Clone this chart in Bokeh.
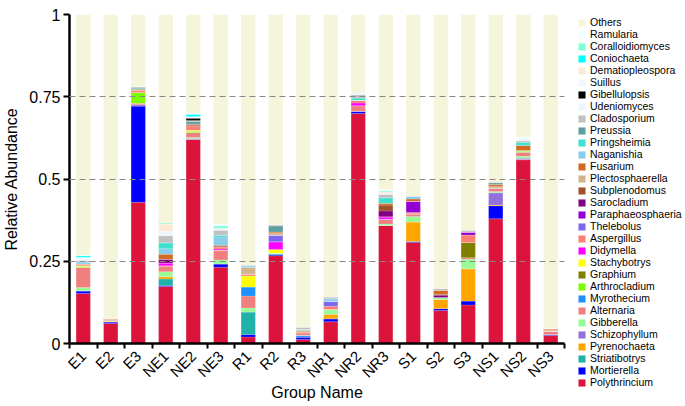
import math
from bokeh.plotting import figure
from bokeh.models import (ColumnDataSource, FixedTicker, Legend, LegendItem)
from bokeh.embed import file_html
from bokeh.resources import INLINE

groups = ["E1", "E2", "E3", "NE1", "NE2", "NE3", "R1", "R2", "R3",
          "NR1", "NR2", "NR3", "S1", "S2", "S3", "NS1", "NS2", "NS3"]

# stacking order: bottom -> top
Polythrincium     = [0.152, 0.061, 0.429, 0.173, 0.620, 0.232, 0.020, 0.267, 0.012, 0.066, 0.699, 0.359, 0.307, 0.100, 0.117, 0.379, 0.559, 0.024]
Mortierella       = [0.008, 0.004, 0.293, 0.003, 0.000, 0.010, 0.007, 0.003, 0.008, 0.009, 0.007, 0.000, 0.003, 0.006, 0.012, 0.040, 0.000, 0.003]
Striatibotrys     = [0.000, 0.000, 0.000, 0.020, 0.000, 0.000, 0.069, 0.004, 0.000, 0.000, 0.000, 0.000, 0.000, 0.000, 0.000, 0.000, 0.000, 0.000]
Pyrenochaeta      = [0.000, 0.004, 0.000, 0.007, 0.000, 0.000, 0.000, 0.000, 0.000, 0.014, 0.000, 0.000, 0.059, 0.028, 0.098, 0.002, 0.000, 0.000]
Schizophyllum     = [0.000, 0.000, 0.004, 0.000, 0.003, 0.000, 0.000, 0.000, 0.000, 0.000, 0.000, 0.000, 0.000, 0.000, 0.000, 0.037, 0.004, 0.000]
Gibberella        = [0.010, 0.000, 0.000, 0.015, 0.003, 0.012, 0.012, 0.000, 0.000, 0.014, 0.000, 0.004, 0.017, 0.006, 0.029, 0.004, 0.006, 0.000]
Alternaria        = [0.061, 0.000, 0.004, 0.018, 0.015, 0.030, 0.036, 0.000, 0.000, 0.000, 0.017, 0.015, 0.008, 0.000, 0.005, 0.011, 0.012, 0.011]
Myrothecium       = [0.000, 0.000, 0.000, 0.000, 0.000, 0.000, 0.028, 0.000, 0.005, 0.000, 0.000, 0.000, 0.000, 0.000, 0.000, 0.000, 0.000, 0.000]
Arthrocladium     = [0.003, 0.000, 0.033, 0.000, 0.004, 0.000, 0.000, 0.000, 0.000, 0.000, 0.000, 0.000, 0.000, 0.000, 0.000, 0.000, 0.004, 0.000]
Graphium          = [0.000, 0.000, 0.000, 0.000, 0.000, 0.000, 0.000, 0.000, 0.000, 0.000, 0.000, 0.000, 0.000, 0.000, 0.046, 0.000, 0.000, 0.000]
Stachybotrys      = [0.002, 0.000, 0.000, 0.000, 0.003, 0.000, 0.033, 0.012, 0.000, 0.000, 0.000, 0.000, 0.000, 0.000, 0.000, 0.000, 0.000, 0.000]
Didymella         = [0.000, 0.000, 0.000, 0.009, 0.000, 0.003, 0.000, 0.023, 0.000, 0.000, 0.008, 0.007, 0.000, 0.000, 0.000, 0.000, 0.000, 0.000]
Aspergillus       = [0.006, 0.000, 0.007, 0.000, 0.014, 0.007, 0.006, 0.000, 0.008, 0.010, 0.008, 0.000, 0.004, 0.000, 0.023, 0.000, 0.002, 0.000]
Thelebolus        = [0.000, 0.000, 0.000, 0.000, 0.000, 0.000, 0.000, 0.020, 0.000, 0.015, 0.000, 0.000, 0.000, 0.000, 0.000, 0.000, 0.000, 0.000]
Paraphaeosphaeria = [0.000, 0.000, 0.000, 0.000, 0.000, 0.000, 0.000, 0.000, 0.000, 0.000, 0.000, 0.000, 0.034, 0.000, 0.009, 0.000, 0.000, 0.000]
Sarocladium       = [0.000, 0.000, 0.000, 0.011, 0.000, 0.000, 0.000, 0.000, 0.000, 0.000, 0.000, 0.018, 0.000, 0.007, 0.000, 0.000, 0.000, 0.000]
Subplenodomus     = [0.000, 0.000, 0.000, 0.000, 0.005, 0.005, 0.000, 0.000, 0.000, 0.000, 0.000, 0.018, 0.000, 0.003, 0.000, 0.000, 0.000, 0.000]
Plectosphaerella  = [0.000, 0.004, 0.000, 0.000, 0.000, 0.000, 0.020, 0.006, 0.007, 0.000, 0.000, 0.000, 0.000, 0.000, 0.000, 0.004, 0.000, 0.002]
Fusarium          = [0.000, 0.002, 0.003, 0.015, 0.000, 0.000, 0.000, 0.004, 0.000, 0.000, 0.000, 0.005, 0.007, 0.012, 0.000, 0.006, 0.015, 0.004]
Naganishia        = [0.006, 0.000, 0.000, 0.017, 0.000, 0.025, 0.005, 0.000, 0.003, 0.008, 0.000, 0.000, 0.008, 0.000, 0.000, 0.000, 0.000, 0.000]
Pringsheimia      = [0.000, 0.000, 0.002, 0.018, 0.000, 0.005, 0.000, 0.000, 0.000, 0.000, 0.007, 0.017, 0.000, 0.000, 0.000, 0.000, 0.010, 0.000]
Preussia          = [0.000, 0.000, 0.003, 0.000, 0.008, 0.000, 0.000, 0.018, 0.000, 0.000, 0.000, 0.000, 0.000, 0.000, 0.000, 0.005, 0.000, 0.000]
Cladosporium      = [0.004, 0.002, 0.003, 0.021, 0.003, 0.015, 0.003, 0.004, 0.007, 0.006, 0.010, 0.010, 0.002, 0.006, 0.006, 0.003, 0.004, 0.002]
Udeniomyces       = [0.006, 0.000, 0.000, 0.014, 0.000, 0.006, 0.000, 0.000, 0.000, 0.000, 0.006, 0.004, 0.000, 0.000, 0.000, 0.000, 0.006, 0.000]
Gibellulopsis     = [0.000, 0.000, 0.000, 0.000, 0.007, 0.000, 0.000, 0.000, 0.000, 0.000, 0.000, 0.000, 0.000, 0.000, 0.000, 0.000, 0.000, 0.000]
Suillus           = [0.004, 0.000, 0.000, 0.000, 0.005, 0.000, 0.000, 0.000, 0.000, 0.000, 0.000, 0.000, 0.000, 0.000, 0.000, 0.000, 0.000, 0.000]
Dematiopleospora  = [0.000, 0.000, 0.000, 0.022, 0.000, 0.000, 0.000, 0.000, 0.000, 0.000, 0.000, 0.004, 0.000, 0.000, 0.000, 0.000, 0.000, 0.000]
Coniochaeta       = [0.005, 0.000, 0.000, 0.000, 0.007, 0.000, 0.000, 0.000, 0.000, 0.000, 0.000, 0.000, 0.000, 0.000, 0.000, 0.000, 0.000, 0.000]
Coralloidiomyces  = [0.000, 0.000, 0.000, 0.003, 0.000, 0.007, 0.000, 0.000, 0.000, 0.000, 0.000, 0.003, 0.000, 0.000, 0.000, 0.000, 0.000, 0.000]
Ramularia         = [0.002, 0.000, 0.000, 0.000, 0.001, 0.006, 0.000, 0.000, 0.000, 0.000, 0.000, 0.004, 0.000, 0.000, 0.000, 0.000, 0.006, 0.000]
Others            = [0.731, 0.923, 0.222, 0.634, 0.302, 0.637, 0.761, 0.639, 0.950, 0.858, 0.238, 0.536, 0.551, 0.832, 0.655, 0.509, 0.372, 0.954]

genera = ["Polythrincium", "Mortierella", "Striatibotrys", "Pyrenochaeta", "Schizophyllum",
          "Gibberella", "Alternaria", "Myrothecium", "Arthrocladium", "Graphium",
          "Stachybotrys", "Didymella", "Aspergillus", "Thelebolus", "Paraphaeosphaeria",
          "Sarocladium", "Subplenodomus", "Plectosphaerella", "Fusarium", "Naganishia",
          "Pringsheimia", "Preussia", "Cladosporium", "Udeniomyces", "Gibellulopsis",
          "Suillus", "Dematiopleospora", "Coniochaeta", "Coralloidiomyces", "Ramularia", "Others"]
series = [Polythrincium, Mortierella, Striatibotrys, Pyrenochaeta, Schizophyllum,
          Gibberella, Alternaria, Myrothecium, Arthrocladium, Graphium,
          Stachybotrys, Didymella, Aspergillus, Thelebolus, Paraphaeosphaeria,
          Sarocladium, Subplenodomus, Plectosphaerella, Fusarium, Naganishia,
          Pringsheimia, Preussia, Cladosporium, Udeniomyces, Gibellulopsis,
          Suillus, Dematiopleospora, Coniochaeta, Coralloidiomyces, Ramularia, Others]
colors = ["#DC143C", "#0000FF", "#20B2AA", "#FFA500", "#9370DB",
          "#98FB98", "#F08080", "#1E90FF", "#7CFC00", "#808000",
          "#FFFF00", "#FF00FF", "#FA8072", "#7B68EE", "#9400D3",
          "#800080", "#A0522D", "#D2B48C", "#D2691E", "#87CEEB",
          "#40E0D0", "#5F9EA0", "#C0C0C0", "#EEF5FF", "#000000",
          "#F0F8FF", "#FAEBD7", "#00FFFF", "#7FFFD4", "#F0FFFF", "#F5F5DC"]

yticks = [0, 0.25, 0.5, 0.75, 1]
ytick_labels = ["0", "0.25", "0.5", "0.75", "1"]

data = {"x": list(range(len(groups)))}
for g, s in zip(genera, series):
    data[g] = s
src = ColumnDataSource(data)

FONT = "Liberation Sans"

p = figure(frame_width=495, frame_height=329, output_backend="svg", toolbar_location=None,
           x_range=(-0.5, 17.5), y_range=(0, 1),
           min_border_left=65, min_border_top=14, min_border_right=105, min_border_bottom=5)
p.outline_line_color = None
p.background_fill_color = "white"

rs = p.vbar_stack(genera, x="x", width=0.52, color=colors, source=src,
                  line_color="white", line_width=0.3, line_alpha=0.5)

# axes
p.xaxis.ticker = FixedTicker(ticks=list(range(len(groups))),
                             minor_ticks=[i - 0.5 for i in range(len(groups) + 1)])
p.xaxis.major_label_overrides = {i: g for i, g in enumerate(groups)}
p.xaxis.major_label_orientation = math.pi / 4
p.xaxis.major_tick_out = 0
p.xaxis.major_tick_in = 0
p.xaxis.minor_tick_out = 5
p.xaxis.minor_tick_in = 0
p.xaxis.minor_tick_line_color = "black"
p.xaxis.minor_tick_line_width = 2
p.xaxis.axis_label = "Group Name"

p.yaxis.ticker = FixedTicker(ticks=yticks, minor_ticks=[])
p.yaxis.major_label_overrides = {t: l for t, l in zip(yticks, ytick_labels)}
p.yaxis.major_tick_out = 6
p.yaxis.major_tick_in = 0
p.yaxis.axis_label = "Relative Abundance"

for ax in (p.xaxis[0], p.yaxis[0]):
    ax.axis_line_width = 2.5
    ax.axis_line_color = "black"
    ax.major_tick_line_width = 2
    ax.major_tick_line_color = "black"
    ax.major_label_text_font = FONT
    ax.major_label_text_font_size = "16px"
    ax.major_label_text_color = "black"
    ax.axis_label_text_font = FONT
    ax.axis_label_text_font_size = "16px"
    ax.axis_label_text_font_style = "normal"
    ax.axis_label_text_color = "black"
p.xaxis.major_label_text_font_size = "15px"
p.xaxis.major_label_standoff = 5
p.xaxis.axis_label_standoff = -6
p.yaxis.major_label_standoff = 3
p.yaxis.axis_label_standoff = 6

p.xgrid.visible = False
p.ygrid.ticker = FixedTicker(ticks=[0.25, 0.5, 0.75])
p.ygrid.grid_line_color = "#888888"
p.ygrid.grid_line_dash = "6 4"
p.ygrid.grid_line_width = 1
p.ygrid.level = "overlay"

items = [LegendItem(label=g, renderers=[r]) for g, r in zip(genera, rs)][::-1]
legend = Legend(items=items, location=(13, -45), orientation="vertical",
                glyph_width=9, glyph_height=9, label_height=10, spacing=0,
                padding=0, margin=0, label_standoff=4,
                label_text_font=FONT, label_text_font_size="10.5px",
                label_text_color="black", border_line_color=None,
                background_fill_alpha=0)
p.add_layout(legend, "right")

open("out.html", "w").write(file_html(p, INLINE))
